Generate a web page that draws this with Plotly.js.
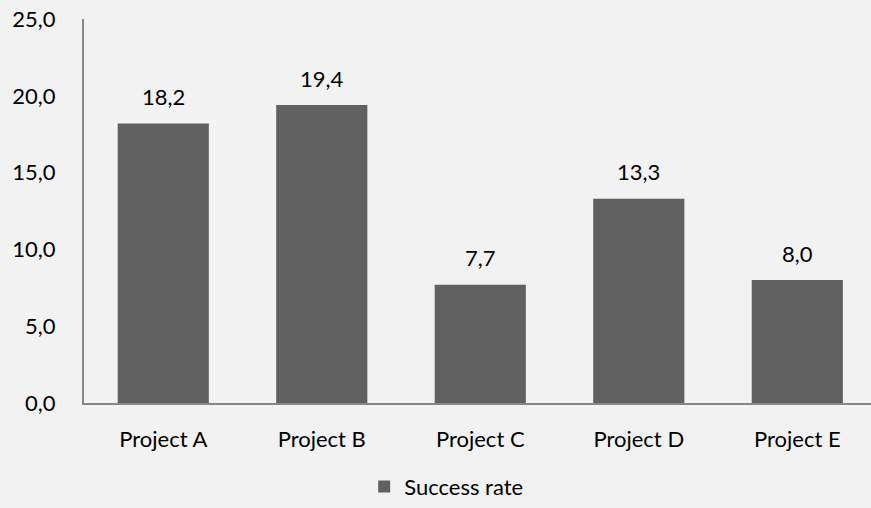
<!DOCTYPE html>
<html>
<head>
<meta charset="utf-8">
<script src="https://cdn.plot.ly/plotly-3.0.1.min.js"></script>
<style>html,body{margin:0;padding:0;background:#f2f2f2;}#chart{width:871px;height:508px;}</style>
</head>
<body>
<div id="chart"></div>
<script>
const categories = ["Project A", "Project B", "Project C", "Project D", "Project E"];
const successRate = [18.2, 19.4, 7.7, 13.3, 8.0];
const seriesName = "Success rate";
const yTicks = [0, 5, 10, 15, 20, 25];

const font = {family: "Lato, 'Open Sans', sans-serif", size: 22, color: "#000000"};

const trace = {
  type: "bar",
  x: categories,
  y: successRate,
  name: seriesName,
  marker: {color: "#616161"},
  width: 0.575,
  hoverinfo: "none"
};

const annotations = categories.map((c, i) => ({
  x: c,
  y: successRate[i],
  xref: "x", yref: "y",
  text: successRate[i].toFixed(1).replace(".", ","),
  showarrow: false,
  yanchor: "middle",
  yshift: 27,
  font: font
}));

const layout = {
  width: 871,
  height: 508,
  paper_bgcolor: "#f2f2f2",
  plot_bgcolor: "#f2f2f2",
  separators: ",.",
  font: font,
  margin: {l: 84, r: 0, t: 19, b: 103, pad: 0},
  showlegend: true,
  legend: {
    orientation: "h",
    x: 0.356, xanchor: "left",
    y: -0.218, yanchor: "middle",
    font: font,
    bgcolor: "rgba(0,0,0,0)"
  },
  annotations: annotations,
  xaxis: {
    range: [-0.5, 4.465],
    showline: true, linecolor: "#868686", linewidth: 2,
    showgrid: false, zeroline: false,
    ticks: "", tickfont: font,
    ticklabelstandoff: 16
  },
  yaxis: {
    range: [0, 25],
    tickvals: yTicks,
    tickformat: ".1f",
    showline: true, linecolor: "#868686", linewidth: 2,
    showgrid: false, zeroline: false,
    ticks: "", tickfont: font,
    ticklabelstandoff: 22
  },
  bargap: 0.425
};

Plotly.newPlot("chart", [trace], layout, {displayModeBar: false, staticPlot: true});
</script>
</body>
</html>
